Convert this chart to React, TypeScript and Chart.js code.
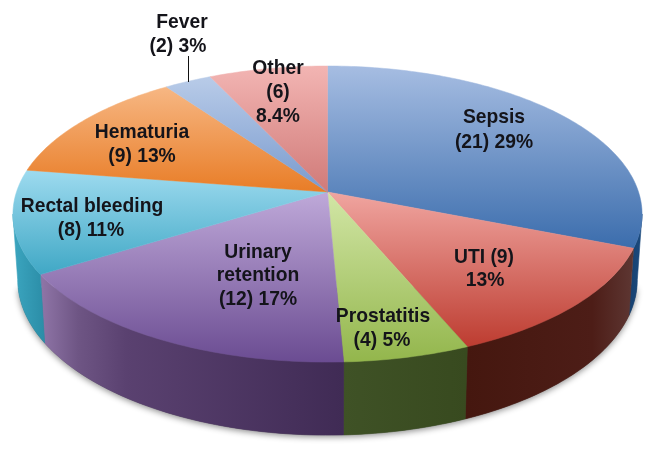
import React, { useEffect, useRef } from "react";
import { Chart, registerables, ArcElement, PieController } from "chart.js";

const categories = ["Sepsis", "UTI", "Prostatitis", "Urinary retention", "Rectal bleeding", "Hematuria", "Fever", "Other"];
const sliceValues = [22, 9, 4, 12, 8, 9, 2, 5];
const baseColors = ["#4F81BD", "#C0504D", "#9BBB59", "#8064A2", "#4BACC6", "#F79646", "#8AA8D8", "#D98E8C"];
const topStops = [
  ["#A6BDE2", "#3A6CAC"], ["#F0A5A0", "#BC3A2E"], ["#D2E6A6", "#93B64C"], ["#BFA9D9", "#6B4C92"],
  ["#A2DDF1", "#3BA5C3"], ["#F7B885", "#E87B24"], ["#B8CBE8", "#7A9BCE"], ["#F2B4B2", "#D07A78"],
];
const topRange = [[66, 250], [192, 350], [192, 362], [192, 362], [165, 280], [85, 195], [78, 190], [68, 192]];
// only the first five slices have a visible side wall
const wallStops: [number, string][][] = [
  [[0, "#17406E"], [1, "#1B4A7E"]],
  [[0, "#45170F"], [0.75, "#4D1D17"], [1, "#5E3733"]],
  [[0, "#3F5226"], [1, "#384A1F"]],
  [[0, "#8E74A6"], [0.12, "#6E5584"], [0.28, "#5A4170"], [1, "#402B55"]],
  [[0, "#3CA6C0"], [1, "#2A8CA6"]],
];
const wallRange = [[628, 642], [467, 634], [343, 467], [42, 343], [12, 46]];

const textLines: [string, number, number][] = [
  ["Sepsis", 494, 118], ["(21) 29%", 494, 143],
  ["UTI (9)", 484, 258], ["13%", 485, 281],
  ["Prostatitis", 383, 317], ["(4) 5%", 382, 341],
  ["Urinary", 258, 253], ["retention", 258, 276], ["(12) 17%", 258, 300],
  ["Rectal bleeding", 92, 207], ["(8) 11%", 91, 231],
  ["Hematuria", 142, 133], ["(9) 13%", 142, 157],
  ["Fever", 182, 23], ["(2) 3%", 178, 47],
  ["Other", 278, 69], ["(6)", 278, 93], ["8.4%", 278, 117],
];

const RX = 1.62, RY = 0.754, PERSP = 0.149, DEPTH = 0.34, SHRINK = 0.015;
// the wall's silhouette runs between the leftmost and rightmost rim points
const WALL_FROM = -Math.asin(-PERSP), WALL_TO = Math.PI + Math.asin(-PERSP);

function project(cx: number, cy: number, R: number, a: number, low: boolean) {
  const X = Math.cos(a), Y = Math.sin(a);
  const f = 1 / (1 - PERSP * Y);
  const s = low ? 1 - SHRINK : 1;
  const d = low ? DEPTH * R : 0;
  return { x: cx + R * RX * X * f * s, y: cy + (R * RY * Y + d) * f * s };
}

class Arc3D extends ArcElement {
  static id = "arc3d";
  static defaults = { ...ArcElement.defaults };
  draw(ctx: CanvasRenderingContext2D) {
    const { x, y, startAngle, endAngle, outerRadius: R } = (this as any).getProps(["x", "y", "startAngle", "endAngle", "outerRadius"]);
    const i = (this as any).$context?.dataIndex ?? 0;
    const step = Math.PI / 180;
    // chart angles run from -PI/2 to 3PI/2; the front of the disc is 0..PI
    const p = Math.max(startAngle, WALL_FROM), q = Math.min(endAngle, WALL_TO);
    ctx.save();
    if (q > p && wallStops[i]) {
      const g = ctx.createLinearGradient(wallRange[i][0], 0, wallRange[i][1], 0);
      for (const [o, c] of wallStops[i]) g.addColorStop(o, c);
      ctx.fillStyle = g;
      ctx.beginPath();
      for (let a = p; a < q; a += step) { const t = project(x, y, R, a, false); ctx.lineTo(t.x, t.y); }
      let t = project(x, y, R, q, false); ctx.lineTo(t.x, t.y);
      for (let a = q; a > p; a -= step) { t = project(x, y, R, a, true); ctx.lineTo(t.x, t.y); }
      t = project(x, y, R, p, true); ctx.lineTo(t.x, t.y);
      ctx.closePath();
      ctx.fill();
      ctx.strokeStyle = g; ctx.lineWidth = 0.6; ctx.stroke();
    }
    // top face
    const g = ctx.createLinearGradient(0, topRange[i][0], 0, topRange[i][1]);
    g.addColorStop(0, topStops[i][0]);
    g.addColorStop(1, topStops[i][1]);
    ctx.fillStyle = g;
    ctx.beginPath();
    ctx.moveTo(x, y);
    for (let a = startAngle; a < endAngle; a += step) { const t = project(x, y, R, a, false); ctx.lineTo(t.x, t.y); }
    const e = project(x, y, R, endAngle, false); ctx.lineTo(e.x, e.y);
    ctx.closePath();
    ctx.fill();
    ctx.strokeStyle = g; ctx.lineWidth = 0.5; ctx.stroke();
    ctx.restore();
  }
}

class Pie3D extends PieController {
  static id = "pie3d";
  static defaults = { ...PieController.defaults, dataElementType: "arc3d" };
}

Chart.register(...registerables, Arc3D as any, Pie3D as any);

const shadowPlugin = {
  id: "wallShadow",
  beforeDatasetsDraw(chart: any) {
    const el = chart.getDatasetMeta(0).data[0];
    if (!el) return;
    const { x, y, outerRadius: R } = el;
    const ctx = chart.ctx;
    ctx.save();
    ctx.shadowColor = "rgba(0,0,0,0.45)";
    ctx.shadowBlur = 6;
    ctx.shadowOffsetY = 2;
    ctx.fillStyle = "#555";
    ctx.beginPath();
    for (let a = WALL_FROM + 0.05; a < WALL_TO - 0.05; a += 0.02) { const t = project(x, y, R, a, true); ctx.lineTo(t.x, t.y); }
    ctx.closePath();
    ctx.fill();
    ctx.restore();
  },
};

const labelPlugin = {
  id: "sliceText",
  afterDatasetsDraw(chart: any) {
    const ctx = chart.ctx;
    ctx.save();
    ctx.strokeStyle = "#111";
    ctx.lineWidth = 1;
    ctx.beginPath();
    ctx.moveTo(188.5, 56);
    ctx.lineTo(188.5, 82);
    ctx.stroke();
    ctx.fillStyle = "#14141a";
    ctx.font = 'bold 19.3px "Liberation Sans", Arial, sans-serif';
    ctx.textAlign = "center";
    ctx.textBaseline = "middle";
    for (const [s, x, y] of textLines) ctx.fillText(s, x, y);
    ctx.restore();
  },
};

export default function App() {
  const ref = useRef<HTMLCanvasElement>(null);
  useEffect(() => {
    const chart = new Chart(ref.current!, {
      type: "pie3d" as any,
      data: {
        labels: categories,
        datasets: [{ data: sliceValues, backgroundColor: baseColors, borderWidth: 0 }],
      },
      options: {
        responsive: false,
        animation: false,
        events: [],
        layout: { padding: { left: 0, right: 7, top: 0, bottom: 73 } },
        plugins: { legend: { display: false }, tooltip: { enabled: false } },
      } as any,
      plugins: [shadowPlugin, labelPlugin],
    });
    return () => chart.destroy();
  }, []);
  return (
    <canvas
      ref={ref}
      width={662}
      height={457}
      style={{ position: "absolute", left: 0, top: 0, width: 662, height: 457, background: "#fff", filter: "blur(0.5px)" }}
    />
  );
}
